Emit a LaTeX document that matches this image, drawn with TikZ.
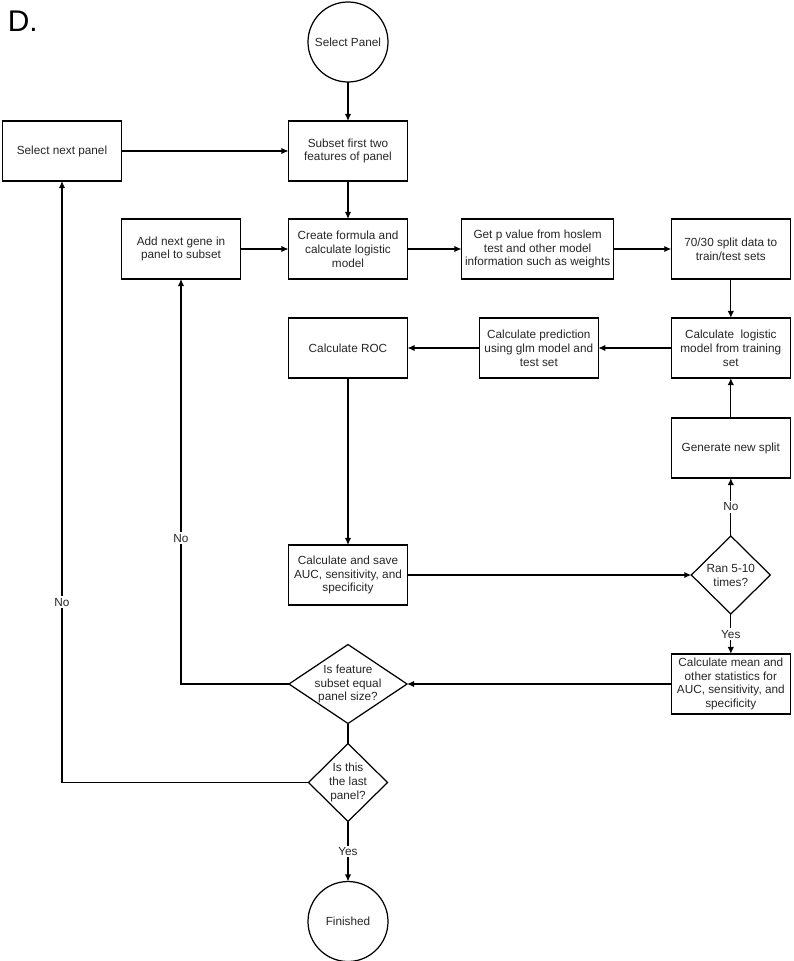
\documentclass[tikz,border=0pt]{standalone}
\usepackage{fontspec}
\setmainfont{Liberation Sans}
\usetikzlibrary{arrows.meta,positioning,shapes.geometric}

\begin{document}
\begin{tikzpicture}[
  font=\fontsize{6.7}{7.9}\selectfont,
  every node/.style={outer sep=0pt},
  box/.style={draw, line width=0.7pt, align=center, minimum width=2.38cm, minimum height=1.2cm, inner sep=2pt, text=black!85},
  term/.style={circle, draw, line width=0.7pt, minimum size=1.6cm, inner sep=0pt, text=black!85},
  dec/.style={diamond, draw, line width=0.7pt, minimum width=1.58cm, minimum height=1.56cm, inner sep=0pt},
  dectext/.style={align=center, text=black!85},
  lbl/.style={fill=white, inner sep=1pt, text=black!85},
  arr/.style={-{Latex[length=4pt,width=3.6pt]}, line width=0.7pt}
]
\useasboundingbox (0,0) rectangle (15.88,-19.22);

\node[anchor=west, font=\fontsize{17}{20}\selectfont] (tag) at (0.04,-0.42) {D.};

\node[term] (sel) at (6.96,-0.84) {Select Panel};
\node[box, below=0.78cm of sel] (subset) {Subset first two\\features of panel};
\node[box, left=3.34cm of subset] (next) {Select next panel};
\node[box, below=0.76cm of subset] (create) {Create formula and\\calculate logistic\\model};
\node[box, left=0.96cm of create] (addgene) {Add next gene in\\panel to subset};
\node[box, right=1.08cm of create, minimum width=3.04cm] (pval) {Get p value from hoslem\\test and other model\\information such as weights};
\node[box, right=1.15cm of pval] (split) {70/30 split data to\\train/test sets};
\node[box, below=0.78cm of split] (train) {Calculate\ \ logistic\\model from training\\set};
\node[box, below=0.78cm of create] (roc) {Calculate ROC};
\node[box, left=1.46cm of train] (pred) {Calculate prediction\\using glm model and\\test set};
\node[box, below=0.8cm of train] (gen) {Generate new split};
\node[box, below=3.34cm of roc] (save) {Calculate and save\\AUC, sensitivity, and\\specificity};

\node[dec, label={[dectext]center:Ran 5-10\\times?}] (ran) at (save -| gen) {};
\node[box, below=0.8cm of ran] (mean) {Calculate mean and\\other statistics for\\AUC, sensitivity, and\\specificity};
\node[dec, minimum width=2.36cm, minimum height=1.58cm, label={[dectext]center:Is feature\\subset equal\\panel size?}] (feat) at (mean -| save) {};
\node[dec, below=0.4cm of feat, label={[dectext]center:Is this\\the last\\panel?}] (last) {};
\node[term, below=1.2cm of last] (fin) {Finished};

% main path
\draw[arr] (sel) -- (subset);
\draw[arr] (next) -- (subset);
\draw[arr] (subset) -- (create);
\draw[arr] (addgene) -- (create);
\draw[arr] (create) -- (pval);
\draw[arr] (pval) -- (split);
\draw[arr] (split) -- (train);
\draw[arr] (train) -- (pred);
\draw[arr] (pred) -- (roc);
\draw[arr] (roc) -- (save);
\draw[arr] (save) -- (ran);

% repeat loop
\draw[arr] (ran) -- node[lbl] {No} (gen);
\draw[arr] (gen) -- (train);
\draw[arr] (ran) -- node[lbl] {Yes} (mean);
\draw[arr] (mean) -- (feat);

% panel loops
\draw[arr] (feat.west) -| node[lbl, pos=0.68] {No} (addgene);
\draw[line width=0.7pt] (feat) -- (last);
\draw[arr] (last.west) -| node[lbl, pos=0.65] {No} (next);
\draw[arr] (last) -- node[lbl] {Yes} (fin);

\end{tikzpicture}
\end{document}
